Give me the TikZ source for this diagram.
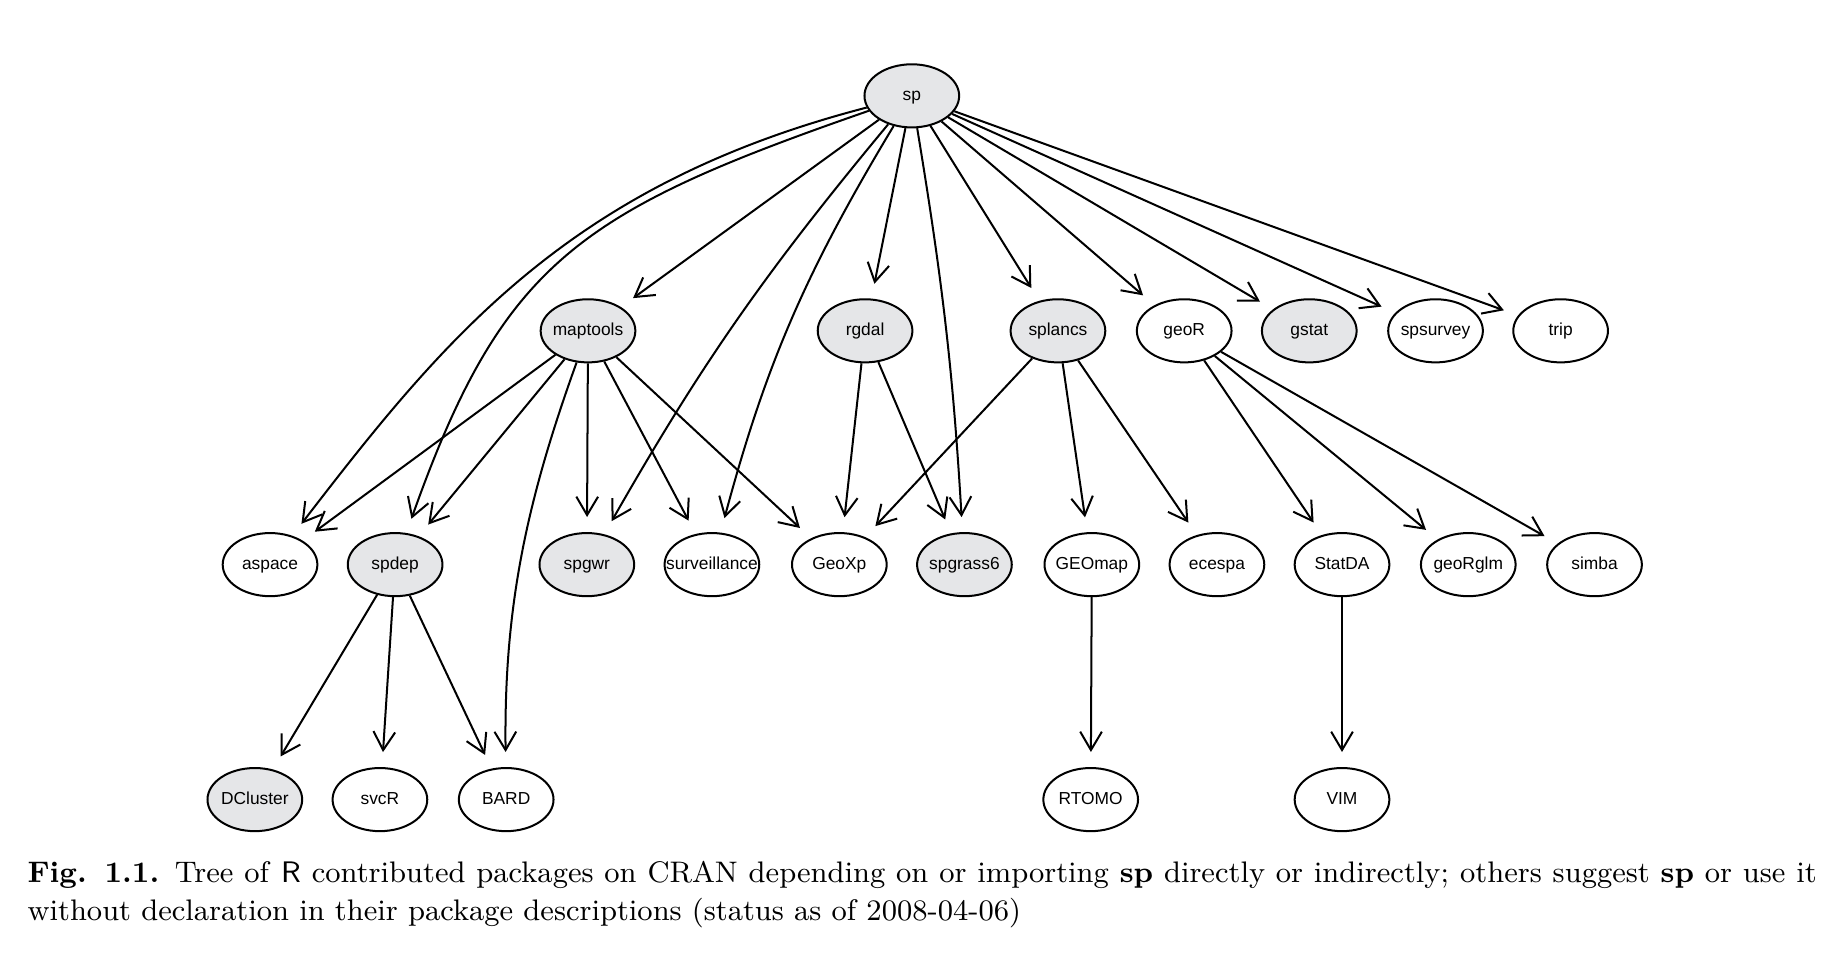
\documentclass[tikz,border=0pt]{standalone}
\usepackage{fontspec}
\newfontfamily\nodefont{Liberation Sans}
\usetikzlibrary{arrows.meta,shapes.geometric}
\definecolor{pkgfill}{RGB}{229,230,232}
\newcommand\pkgname[1]{\makebox[0pt]{#1}}
\begin{document}
\begin{tikzpicture}[x=0.35pt,y=-0.35pt,
  pkg/.style={ellipse, draw, line width=0.6pt, minimum width=28.35pt, minimum height=18.9pt,
    inner sep=0pt, font=\nodefont\fontsize{5.2}{6}\selectfont, text height=3.8pt, text depth=1pt},
  hl/.style={pkg, fill=pkgfill},
  dep/.style={line width=0.6pt, -{Straight Barb[length=5.5pt,width=6.5pt]}, shorten >=4.5pt}]
\useasboundingbox (0,0) rectangle (1564.6,820.4);
% row 0
\node[hl] (sp) at (780,82) {\pkgname{sp}};
% row 1
\node[hl]  (maptools) at (503,283) {\pkgname{maptools}};
\node[hl]  (rgdal)    at (740,283) {\pkgname{rgdal}};
\node[hl]  (splancs)  at (905,283) {\pkgname{splancs}};
\node[pkg] (geoR)     at (1013,283) {\pkgname{geoR}};
\node[hl]  (gstat)    at (1120,283) {\pkgname{gstat}};
\node[pkg] (spsurvey) at (1228,283) {\pkgname{spsurvey}};
\node[pkg] (trip)     at (1335,283) {\pkgname{trip}};
% row 2
\node[pkg] (aspace)   at (231,483) {\pkgname{aspace}};
\node[hl]  (spdep)    at (338,483) {\pkgname{spdep}};
\node[hl]  (spgwr)    at (502,483) {\pkgname{spgwr}};
\node[pkg] (surv)     at (609,483) {\pkgname{surveillance}};
\node[pkg] (GeoXp)    at (718,483) {\pkgname{GeoXp}};
\node[hl]  (spgrass6) at (825,483) {\pkgname{spgrass6}};
\node[pkg] (GEOmap)   at (934,483) {\pkgname{GEOmap}};
\node[pkg] (ecespa)   at (1041,483) {\pkgname{ecespa}};
\node[pkg] (StatDA)   at (1148,483) {\pkgname{StatDA}};
\node[pkg] (geoRglm)  at (1256,483) {\pkgname{geoRglm}};
\node[pkg] (simba)    at (1364,483) {\pkgname{simba}};
% row 3
\node[hl]  (DCluster) at (218,684) {\pkgname{DCluster}};
\node[pkg] (svcR)     at (325,684) {\pkgname{svcR}};
\node[pkg] (BARD)     at (433,684) {\pkgname{BARD}};
\node[pkg] (RTOMO)    at (933,684) {\pkgname{RTOMO}};
\node[pkg] (VIM)      at (1148,684) {\pkgname{VIM}};
% edges from sp
\draw[dep] (sp) .. controls (487,158) and (381,288) .. (aspace);
\draw[dep] (sp) .. controls (495,181) and (430,224) .. (spdep);
\draw[dep] (sp) -- (maptools);
\draw[dep] (sp) to[bend right=5] (spgwr);
\draw[dep] (sp) to[bend right=8] (surv);
\draw[dep] (sp) -- (rgdal);
\draw[dep] (sp) to[bend left=3] (spgrass6);
\draw[dep] (sp) -- (splancs);
\draw[dep] (sp) -- (geoR);
\draw[dep] (sp) -- (gstat);
\draw[dep] (sp) -- (spsurvey);
\draw[dep] (sp) -- (trip);
% edges from maptools
\draw[dep] (maptools) -- (aspace);
\draw[dep] (maptools) -- (spdep);
\draw[dep] (maptools) .. controls (450,430) and (431,520) .. (BARD);
\draw[dep] (maptools) -- (spgwr);
\draw[dep] (maptools) -- (surv);
\draw[dep] (maptools) -- (GeoXp);
% rgdal
\draw[dep] (rgdal) -- (GeoXp);
\draw[dep] (rgdal) -- (spgrass6);
% splancs
\draw[dep] (splancs) -- (GeoXp);
\draw[dep] (splancs) -- (GEOmap);
\draw[dep] (splancs) -- (ecespa);
% geoR
\draw[dep] (geoR) -- (StatDA);
\draw[dep] (geoR) -- (geoRglm);
\draw[dep] (geoR) -- (simba);
% spdep
\draw[dep] (spdep) -- (DCluster);
\draw[dep] (spdep) -- (svcR);
\draw[dep] (spdep) -- (BARD);
% lower
\draw[dep] (GEOmap) -- (RTOMO);
\draw[dep] (StatDA) -- (VIM);
% caption
\node[anchor=base west, inner sep=0pt, font=\fontsize{8.9}{11}\selectfont] (cap1) at (23,755)
  {\makebox[535.7pt][s]{\textbf{Fig. 1.1.} Tree of \textsf{R} contributed packages on CRAN depending on or importing \textbf{sp} directly or indirectly; others suggest \textbf{sp} or use it}};
\node[anchor=base west, inner sep=0pt, font=\fontsize{8.9}{11}\selectfont] (cap2) at (23,787)
  {without declaration in their package descriptions (status as of 2008-04-06)};
\end{tikzpicture}
\end{document}
